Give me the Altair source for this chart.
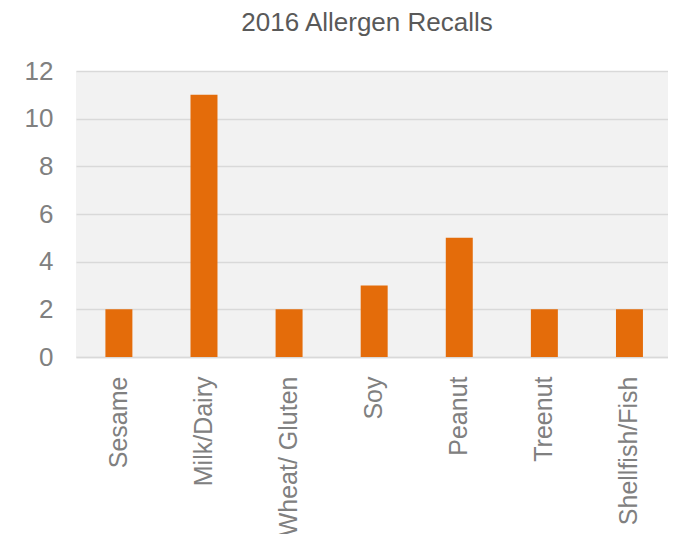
import altair as alt
import pandas as pd

categories = ["Sesame", "Milk/Dairy", "Wheat/ Gluten", "Soy", "Peanut", "Treenut", "Shellfish/Fish"]
recalls = [2, 11, 2, 3, 5, 2, 2]
y_ticks = [0, 2, 4, 6, 8, 10, 12]

df = pd.DataFrame({"allergen": categories, "recalls": recalls})

FONT = "Liberation Sans"

chart = alt.Chart(df).mark_bar(color="#E46C0A").encode(
    x=alt.X("allergen:N", sort=categories, title=None,
            scale=alt.Scale(paddingInner=0.683, paddingOuter=0.32, align=0.54),
            axis=alt.Axis(labelAngle=-90, labelFontSize=25, labelColor="#808080",
                          labelFont=FONT, ticks=False, domain=True, domainColor="#d9d9d9",
                          domainWidth=1.5, labelPadding=19, labelLimit=300)),
    y=alt.Y("recalls:Q", title=None,
            scale=alt.Scale(domain=[0, 12]),
            axis=alt.Axis(values=y_ticks, labelFontSize=26, labelColor="#808080",
                          labelFont=FONT, ticks=False, domain=False, grid=True,
                          gridColor="#d9d9d9", gridWidth=1.5, labelPadding=23)),
).properties(
    width=592, height=286,
    title=alt.TitleParams("2016 Allergen Recalls", font=FONT, fontSize=26,
                          color="#595959", fontWeight="normal", anchor="middle",
                          offset=22, dx=-5),
    autosize=alt.AutoSizeParams(type="none"),
    padding={"left": 68, "top": 63, "right": 0, "bottom": 177},
).configure_view(fill="#f2f2f2", stroke=None)

chart.save("out.html", embed_options={"renderer": "svg", "actions": False})
